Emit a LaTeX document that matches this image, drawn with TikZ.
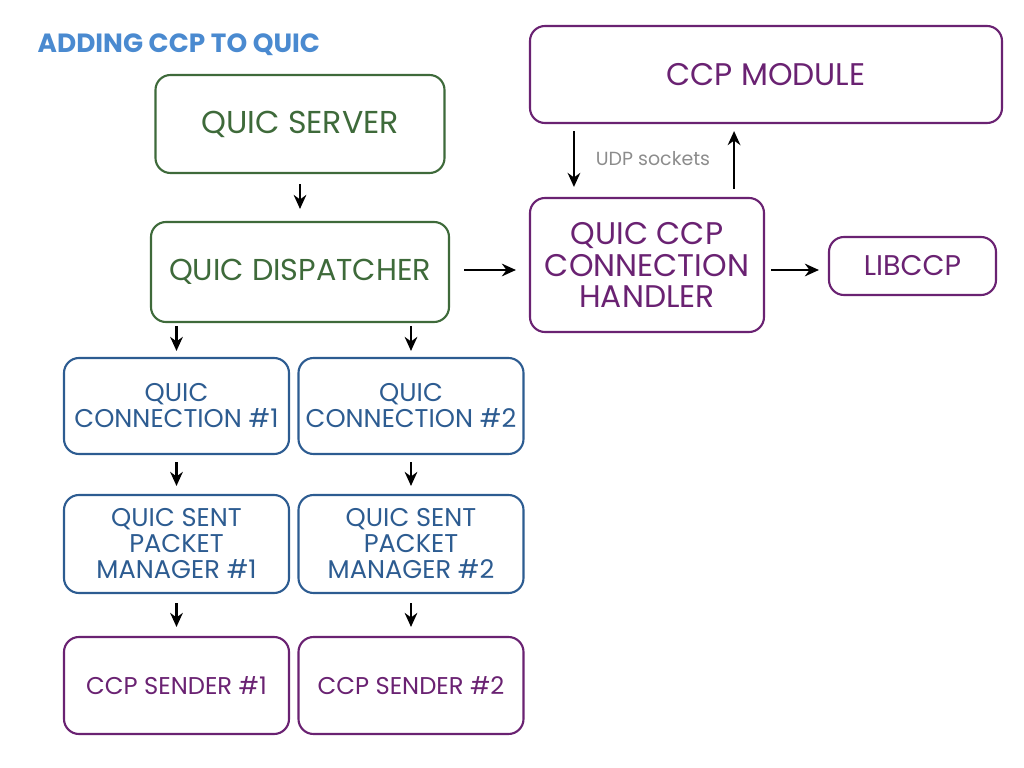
\documentclass[tikz,border=0pt]{standalone}
\usepackage{fontspec}
\setmainfont{Poppins}
\usetikzlibrary{arrows.meta}

\definecolor{srvgreen}{RGB}{62,106,58}
\definecolor{connblue}{RGB}{45,92,145}
\definecolor{ccppurple}{RGB}{106,34,114}
\definecolor{titleblue}{RGB}{74,138,208}
\definecolor{udpgray}{RGB}{140,140,140}

\tikzset{
    box/.style={draw, rounded corners=0.15cm, align=center, inner sep=0pt, line width=0.6pt},
    greenbox/.style={box, draw=srvgreen, text=srvgreen, font=\fontsize{9}{11}\selectfont},
    bluebox/.style={box, draw=connblue, text=connblue, minimum width=2.25cm, font=\fontsize{7.3}{7.4}\selectfont},
    purplebox/.style={box, draw=ccppurple, text=ccppurple},
    arr/.style={-{Stealth[length=4pt,width=3.6pt]}, line width=0.6pt}
}

\begin{document}
\begin{tikzpicture}
    \useasboundingbox (0,0) rectangle (10.24,-7.68);

    \node[anchor=west, inner sep=0pt, text=titleblue, font=\fontsize{7.5}{8}\selectfont\bfseries] (title) at (0.37,-0.45) {ADDING CCP TO QUIC};

    % server side
    \node[greenbox, minimum width=2.89cm, minimum height=0.98cm] (server) at (3.00,-1.24) {QUIC SERVER};
    \node[greenbox, minimum width=2.98cm, minimum height=1.00cm, font=\fontsize{8.6}{10}\selectfont] (disp) at (3.00,-2.72) {QUIC DISPATCHER};

    \node[bluebox, minimum height=0.96cm] (conn1) at (1.765,-4.06) {QUIC\\CONNECTION \#1};
    \node[bluebox, minimum height=0.96cm] (conn2) at (4.11,-4.06) {QUIC\\CONNECTION \#2};

    \node[bluebox, minimum height=0.98cm] (mgr1) at (1.765,-5.44) {QUIC SENT\\PACKET\\MANAGER \#1};
    \node[bluebox, minimum height=0.98cm] (mgr2) at (4.11,-5.44) {QUIC SENT\\PACKET\\MANAGER \#2};

    \node[purplebox, minimum width=2.25cm, minimum height=0.97cm, font=\fontsize{6.9}{7.4}\selectfont] (snd1) at (1.765,-6.855) {CCP SENDER \#1};
    \node[purplebox, minimum width=2.25cm, minimum height=0.97cm, font=\fontsize{6.9}{7.4}\selectfont] (snd2) at (4.11,-6.855) {CCP SENDER \#2};

    % ccp side
    \node[purplebox, minimum width=4.72cm, minimum height=0.97cm, font=\fontsize{8.9}{11}\selectfont] (module) at (7.66,-0.745) {CCP MODULE};
    \node[purplebox, minimum width=2.34cm, minimum height=1.34cm, font=\fontsize{8.9}{9}\selectfont] (handler) at (6.47,-2.65) {QUIC CCP\\CONNECTION\\HANDLER};
    \node[purplebox, minimum width=1.67cm, minimum height=0.58cm, font=\fontsize{8.1}{10}\selectfont] (libccp) at (9.125,-2.66) {LIBCCP};

    \coordinate (udpdn) at ([xshift=0.45cm]handler.north west);
    \coordinate (udpup) at ([xshift=-0.31cm]handler.north east);
    \node[text=udpgray, font=\fontsize{5.4}{6}\selectfont] (udp) at (6.53,-1.59) {UDP sockets};

    % arrows
    \draw[arr, shorten <=0.10cm, shorten >=0.12cm] (server.south) -- (disp.north);
    \draw[arr, shorten <=0.03cm, shorten >=0.06cm] (conn1 |- disp.south) -- (conn1.north);
    \draw[arr, shorten <=0.03cm, shorten >=0.06cm] (conn2 |- disp.south) -- (conn2.north);
    \draw[arr, shorten <=0.07cm, shorten >=0.08cm] (conn1.south) -- (mgr1.north);
    \draw[arr, shorten <=0.07cm, shorten >=0.08cm] (conn2.south) -- (mgr2.north);
    \draw[arr, shorten <=0.09cm, shorten >=0.09cm] (mgr1.south) -- (snd1.north);
    \draw[arr, shorten <=0.09cm, shorten >=0.09cm] (mgr2.south) -- (snd2.north);
    \draw[arr, shorten <=0.14cm, shorten >=0.13cm] ([yshift=0.02cm]disp.east) -- ([yshift=0.02cm]handler.west |- disp.east);
    \draw[arr, shorten <=0.06cm, shorten >=0.09cm] ([yshift=-0.05cm]handler.east) -- ([yshift=-0.05cm]libccp.west |- handler.east);
    \draw[arr, shorten <=0.07cm, shorten >=0.10cm] (udpdn |- module.south) -- (udpdn);
    \draw[arr, shorten <=0.08cm, shorten >=0.07cm] (udpup) -- (udpup |- module.south);

\end{tikzpicture}
\end{document}
